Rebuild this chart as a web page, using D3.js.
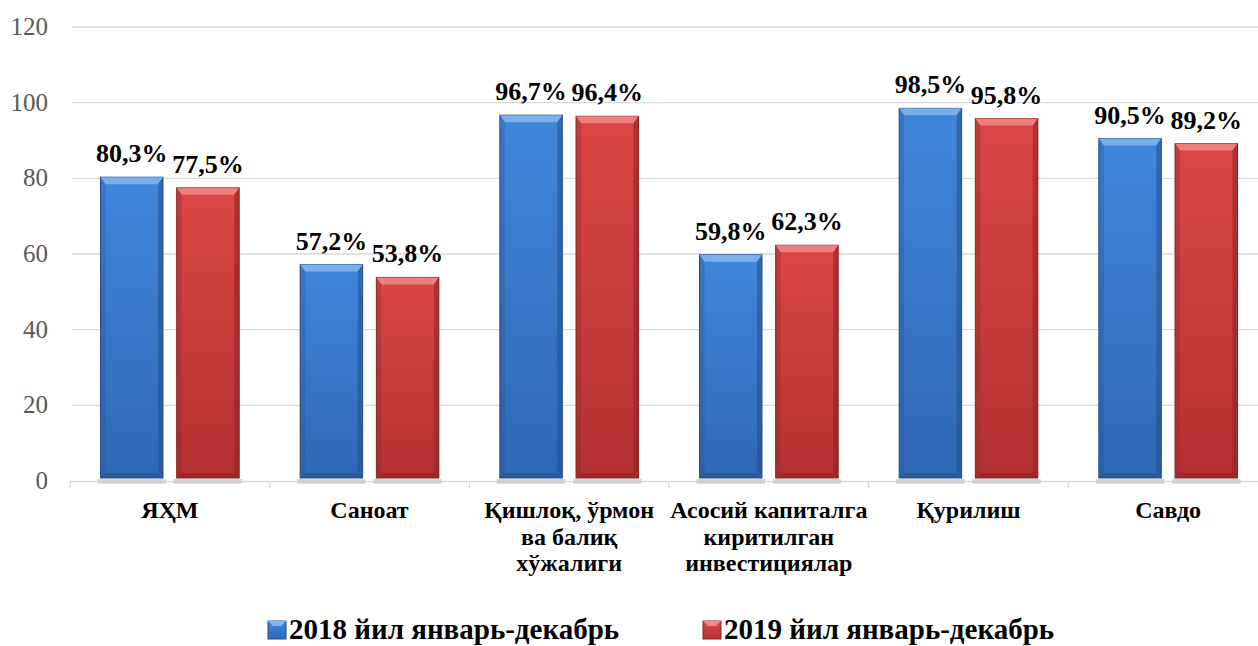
<!DOCTYPE html>
<html><head><meta charset="utf-8">
<script src="https://cdn.jsdelivr.net/npm/d3@7"></script>
<style>body{margin:0;background:#fff}svg{display:block}</style>
</head><body><svg id="c" width="1258" height="646"></svg>
<script>
const categories = [["ЯҲМ"],["Саноат"],["Қишлоқ, ўрмон","ва балиқ","хўжалиги"],["Асосий капиталга","киритилган","инвестициялар"],["Қурилиш"],["Савдо"]];
const series2018 = [80.3,57.2,96.7,59.8,98.5,90.5];
const series2019 = [77.5,53.8,96.4,62.3,95.8,89.2];
const labels2018 = ["80,3%","57,2%","96,7%","59,8%","98,5%","90,5%"];
const labels2019 = ["77,5%","53,8%","96,4%","62,3%","95,8%","89,2%"];
const seriesNames = ["2018 йил январь-декабрь","2019 йил январь-декабрь"];
const yTicks = [0,20,40,60,80,100,120];

const FF = '"Liberation Serif"';
const svg = d3.select("#c");
const x0 = d3.scaleBand().domain(d3.range(categories.length)).range([70,1268]).paddingInner(0).paddingOuter(0);
const x1 = d3.scaleBand().domain([0,1]).range([0,x0.bandwidth()]).paddingInner(0.18).paddingOuter(0.4);
const y = d3.scaleLinear().domain([0,120]).range([481,27]);

const cols = [{top:"#4087dc",bot:"#2f68b4",light:"#86b6ef",dark:"#244f8a"},{top:"#dc4646",bot:"#b43131",light:"#f08a8a",dark:"#8a2323"}];
const defs = svg.append("defs");
cols.forEach((c,i)=>{
  const g = defs.append("linearGradient").attr("id","g"+i).attr("x1",0).attr("y1",0).attr("x2",0).attr("y2",1);
  g.append("stop").attr("offset","0%").attr("stop-color",c.top);
  g.append("stop").attr("offset","100%").attr("stop-color",c.bot);
});

svg.append("g").selectAll("line").data(yTicks.filter(d=>d>0)).join("line")
  .attr("x1",72).attr("x2",1258).attr("y1",d=>y(d)).attr("y2",d=>y(d))
  .attr("stroke","#d9d9d9").attr("stroke-width",1.3);
svg.append("g").selectAll("text").data(yTicks).join("text")
  .attr("x",48).attr("y",d=>y(d)+8).attr("text-anchor","end")
  .style("font-family",FF).style("font-size","25px").attr("fill","#595959").text(d=>d);
svg.append("line").attr("x1",70).attr("x2",1258).attr("y1",y(0)+0.5).attr("y2",y(0)+0.5).attr("stroke","#d9d9d9").attr("stroke-width",1.3);
svg.append("g").selectAll("line").data(d3.range(categories.length+1)).join("line")
  .attr("x1",d=>70+d*x0.bandwidth()).attr("x2",d=>70+d*x0.bandwidth())
  .attr("y1",y(0)).attr("y2",y(0)+7).attr("stroke","#d9d9d9").attr("stroke-width",1.3);

const data = [];
categories.forEach((c,i)=>{
  data.push({i,s:0,v:series2018[i],l:labels2018[i]});
  data.push({i,s:1,v:series2019[i],l:labels2019[i]});
});

svg.append("g").selectAll("rect").data(data).join("rect")
  .attr("x",d=>x0(d.i)+x1(d.s)-3).attr("width",x1.bandwidth()+6)
  .attr("y",y(0)-2).attr("height",5).attr("fill","#bfbfbf").attr("opacity",0.6);

const bars = svg.append("g").selectAll("g").data(data).join("g");
const b = 5;
bars.append("rect")
  .attr("x",d=>x0(d.i)+x1(d.s)).attr("width",x1.bandwidth())
  .attr("y",d=>y(d.v)).attr("height",d=>y(0)-3-y(d.v))
  .attr("fill",d=>`url(#g${d.s})`).attr("stroke",d=>cols[d.s].dark).attr("stroke-width",1);
bars.append("path").attr("d",d=>{
  const xa=x0(d.i)+x1(d.s), xb=xa+x1.bandwidth(), yt=y(d.v);
  return `M${xa},${yt}L${xb},${yt}L${xb-b},${yt+b+2}L${xa+b},${yt+b+2}Z`;
}).attr("fill",d=>cols[d.s].light).attr("opacity",0.85);
bars.append("path").attr("d",d=>{
  const xa=x0(d.i)+x1(d.s), yt=y(d.v), yb=y(0)-3;
  return `M${xa},${yt}L${xa+b},${yt+b+2}L${xa+b},${yb-b}L${xa},${yb}Z`;
}).attr("fill",d=>cols[d.s].dark).attr("opacity",0.3);
bars.append("path").attr("d",d=>{
  const xb=x0(d.i)+x1(d.s)+x1.bandwidth(), yt=y(d.v), yb=y(0)-3;
  return `M${xb},${yt}L${xb-b},${yt+b+2}L${xb-b},${yb-b}L${xb},${yb}Z`;
}).attr("fill",d=>cols[d.s].dark).attr("opacity",0.55);
bars.append("path").attr("d",d=>{
  const xa=x0(d.i)+x1(d.s), xb=xa+x1.bandwidth(), yb=y(0)-3;
  return `M${xa},${yb}L${xa+b},${yb-b}L${xb-b},${yb-b}L${xb},${yb}Z`;
}).attr("fill",d=>cols[d.s].dark).attr("opacity",0.6);

svg.append("g").selectAll("text").data(data).join("text")
  .attr("x",d=>x0(d.i)+x1(d.s)+x1.bandwidth()/2).attr("y",d=>y(d.v)-15)
  .attr("text-anchor","middle").style("font-family",FF).style("font-weight","bold")
  .style("font-size","26px").attr("fill","#000").text(d=>d.l);

const cg = svg.append("g").selectAll("text").data(categories).join("text")
  .attr("text-anchor","middle").style("font-family",FF).style("font-weight","bold")
  .style("font-size","24px").attr("fill","#000");
cg.selectAll("tspan").data((d,i)=>d.map(t=>({t,i}))).join("tspan")
  .attr("x",d=>x0(d.i)+x0.bandwidth()/2).attr("y",(d,j)=>518+j*26.5).text(d=>d.t);

const lx = [268,703];
const lg = svg.append("g").selectAll("g").data(seriesNames).join("g");
lg.append("rect").attr("x",(d,i)=>lx[i]).attr("y",621).attr("width",18).attr("height",18)
  .attr("fill",(d,i)=>`url(#g${i})`).attr("stroke",(d,i)=>cols[i].dark);
lg.append("path").attr("d",(d,i)=>`M${lx[i]},621L${lx[i]+18},621L${lx[i]+13},626L${lx[i]+5},626Z`).attr("fill",(d,i)=>cols[i].light);
lg.append("text").attr("x",(d,i)=>lx[i]+21).attr("y",639).style("font-family",FF).style("font-weight","bold")
  .style("font-size","29px").attr("fill","#000").text(d=>d);
</script></body></html>
